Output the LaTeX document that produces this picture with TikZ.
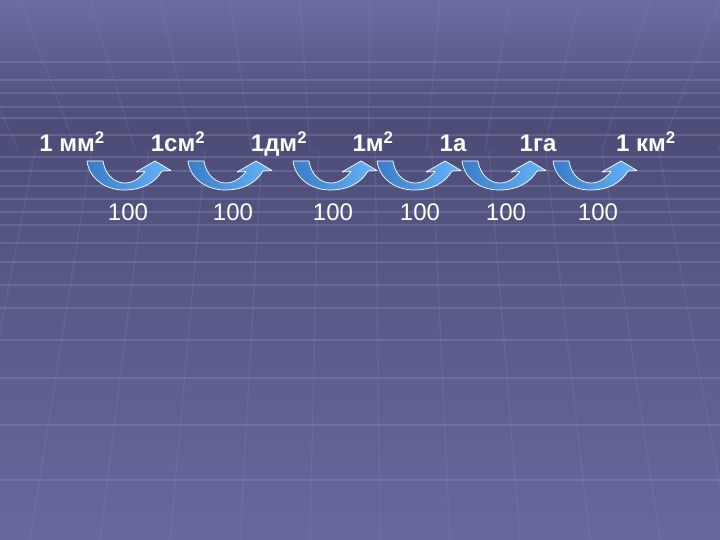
\documentclass[tikz,border=0pt]{standalone}
\usepackage{fontspec}
\setmainfont{Liberation Sans}
\definecolor{bgtop}{HTML}{6C6CA2}
\definecolor{bgdark}{HTML}{4C4C77}
\definecolor{bgmid}{HTML}{5A5A89}
\definecolor{bglow}{HTML}{67679C}
\definecolor{gridcol}{HTML}{8484B8}
\definecolor{arrowdark}{HTML}{3A7CC8}
\definecolor{arrowlight}{HTML}{66B4F8}
\tikzset{
  unitlabel/.style={text=white, font=\fontsize{24bp}{28bp}\selectfont\bfseries, anchor=base, inner sep=0pt},
  factorlabel/.style={text=white, font=\fontsize{24bp}{28bp}\selectfont, anchor=base, inner sep=0pt},
  gridline/.style={draw=gridcol, line width=1.3bp, opacity=0.4},
  bendarrow/.style={draw=white, line width=0.7bp, left color=arrowdark, right color=arrowlight, line join=round},
}
\begin{document}
\begin{tikzpicture}[x=1bp,y=-1bp]
\useasboundingbox (0,0) rectangle (720,540);
% background
\fill[top color=bgtop, bottom color=bgdark] (0,0) rectangle (720,130);
\fill[top color=bgdark, bottom color=bgmid] (0,129.5) rectangle (720,300);
\fill[top color=bgmid, bottom color=bglow] (0,299.5) rectangle (720,540);
\foreach \yy in {62,80,93,107,118,135,157,171,186,199,212,225,243,262,285,308,340,378,425,480}
  \draw[gridline] (0,\yy) -- (720,\yy);
\foreach \xx in {-50,20,...,790} {
  \pgfmathsetmacro\xe{360+(\xx-360)*0.8333}
  \draw[gridline, opacity=0.22] (\xx,0) -- (\xe,150);
}
\foreach \xb in {-40,30,...,760} {
  \pgfmathsetmacro\xt{355+(\xb-355)*0.81}
  \draw[gridline, opacity=0.25] (\xt,150) -- (\xb,540);
}
% arrows
\foreach \ax in {87,188,293,377,462,553}
  \draw[bendarrow, shift={(\ax,161)}] (0,0) -- (16,0)
    .. controls (18,14) and (28,22) .. (38,22)
    .. controls (46,22) and (53,17) .. (58,10.5)
    -- (49,11) -- (68,0) -- (84,9.5) -- (75,10)
    .. controls (68,22) and (55,29) .. (37,29)
    .. controls (18,29) and (2,17) .. (0,0) -- cycle;
% units
\node[unitlabel] (mm) at (72,152) {1 мм\textsuperscript{2}};
\node[unitlabel] (cm) at (178,152) {1см\textsuperscript{2}};
\node[unitlabel] (dm) at (279,152) {1дм\textsuperscript{2}};
\node[unitlabel] (m) at (373,152) {1м\textsuperscript{2}};
\node[unitlabel] (ar) at (453,152) {1а};
\node[unitlabel] (ha) at (538,152) {1га};
\node[unitlabel] (km) at (646,152) {1 км\textsuperscript{2}};
% factors
\foreach \fx [count=\i] in {128,233,333,420,506,598}
  \node[factorlabel] (f\i) at (\fx,221) {100};
\end{tikzpicture}
\end{document}
